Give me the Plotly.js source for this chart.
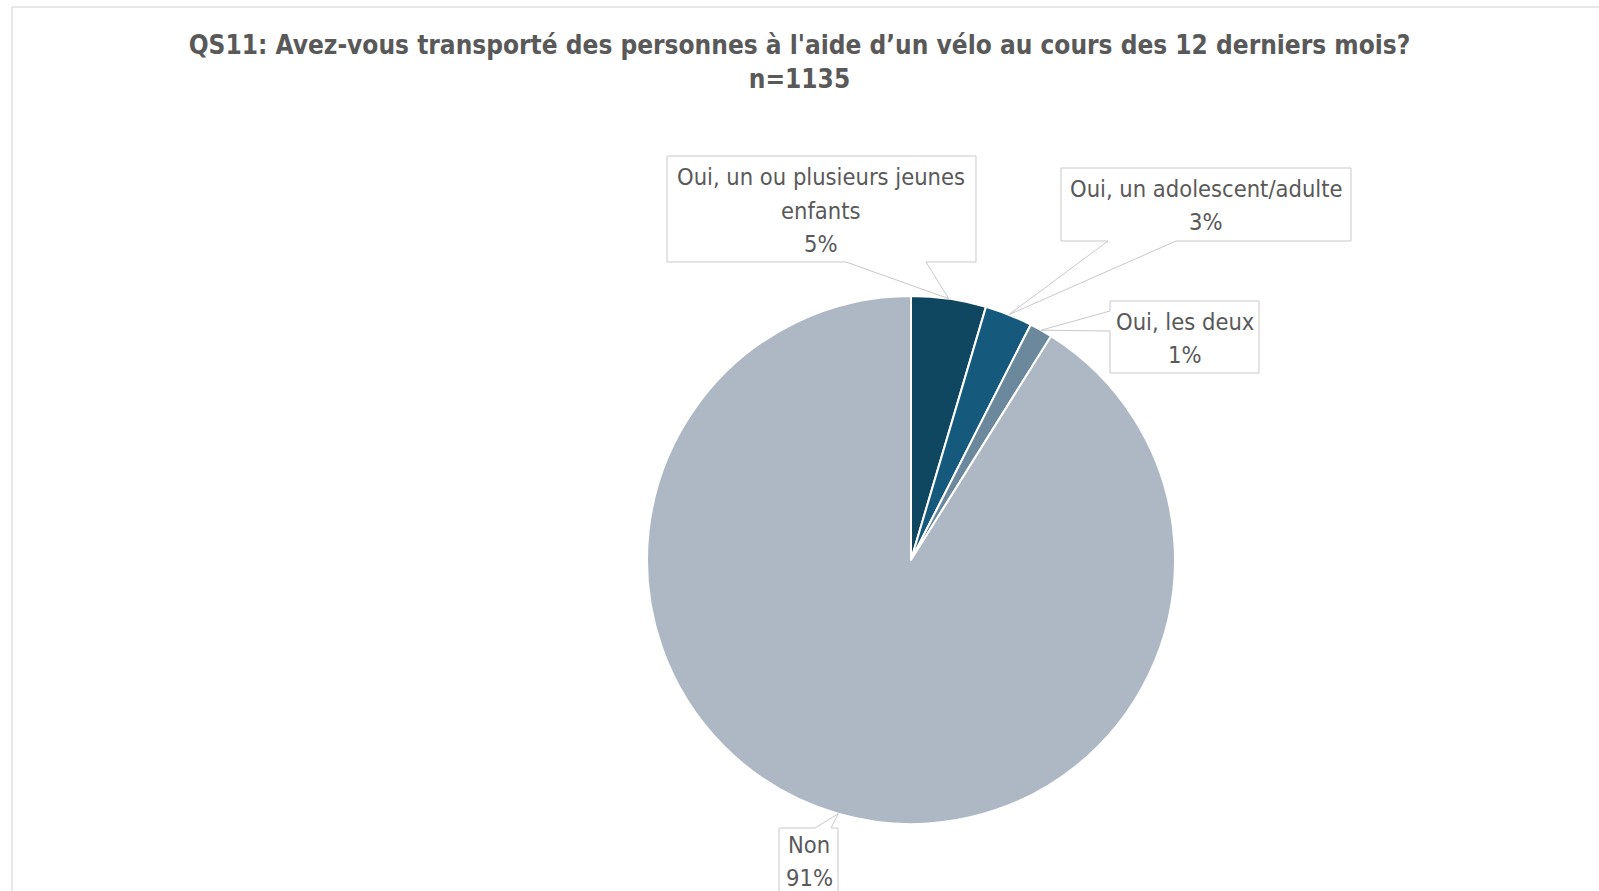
<!DOCTYPE html>
<html>
<head>
<meta charset="utf-8">
<script src="https://cdn.plot.ly/plotly-3.0.1.min.js"></script>
<style>html,body{margin:0;padding:0;background:#fff;}#chart{width:1599px;height:891px;}</style>
</head>
<body>
<div id="chart"></div>
<script>
// ---- data ----
const categories = ["Oui, un ou plusieurs jeunes enfants", "Oui, un adolescent/adulte", "Oui, les deux", "Non"];
const labelLines = [["Oui, un ou plusieurs jeunes", "enfants"], ["Oui, un adolescent/adulte"], ["Oui, les deux"], ["Non"]];
const counts = [52, 33, 16, 1034];
const colors = ["#0f4761", "#155a7c", "#6b889d", "#adb8c4"];
const titleText = "QS11: Avez-vous transporté des personnes à l'aide d’un vélo au cours des 12 derniers mois?<br>n=1135";

// ---- layout geometry (pixels) ----
const W = 1599, H = 891;
const cx = 911, cy = 560, R = 264;
const X = px => px / W;
const Y = py => 1 - py / H;
const FONT = "Liberation Sans Narrow, DejaVu Sans Condensed, Roboto, sans-serif";

// callout boxes: [x0, y0, x1, y1], wedge side and base
const boxes = [
  {b: [667, 156, 976, 262], side: "bottom", base: [846, 926], cx: 821, lineY: [177, 211, 244]},
  {b: [1061, 168, 1351, 241], side: "bottom", base: [1108, 1176], cx: 1206, lineY: [189, 222]},
  {b: [1110, 301, 1259, 373], side: "left", base: [311, 331], cx: 1185, lineY: [322, 355]},
  {b: [779, 828, 838, 905], side: "top", base: [815, 831], cx: 809, lineY: [845, 878]}
];

const total = counts.reduce((a, b) => a + b, 0);
let cum = 0;
const tips = counts.map(v => {
  const mid = (cum + v / 2) / total;
  cum += v;
  const a = mid * 2 * Math.PI;
  return [cx + R * Math.sin(a), cy - R * Math.cos(a)];
});

const shapes = [{
  type: "rect", xref: "paper", yref: "paper",
  x0: X(12), y0: Y(7), x1: X(1640), y1: Y(940),
  line: {color: "#d0d0d0", width: 1}, fillcolor: "rgba(0,0,0,0)", layer: "below"
}];
const annotations = [];

boxes.forEach((bx, i) => {
  const [x0, y0, x1, y1] = bx.b;
  const [tx, ty] = tips[i];
  let pts;
  if (bx.side === "bottom") {
    pts = [[x0, y0], [x1, y0], [x1, y1], [bx.base[1], y1], [tx, ty], [bx.base[0], y1], [x0, y1]];
  } else if (bx.side === "left") {
    pts = [[x0, y0], [x1, y0], [x1, y1], [x0, y1], [x0, bx.base[1]], [tx, ty], [x0, bx.base[0]]];
  } else {
    pts = [[x0, y0], [bx.base[0], y0], [tx, ty], [bx.base[1], y0], [x1, y0], [x1, y1], [x0, y1]];
  }
  const path = "M " + pts.map(p => X(p[0]).toFixed(5) + "," + Y(p[1]).toFixed(5)).join(" L ") + " Z";
  shapes.push({type: "path", xref: "paper", yref: "paper", path: path,
    line: {color: "#c8c8c8", width: 1}, fillcolor: "#ffffff", layer: "above"});
  const pct = Math.round(counts[i] / total * 100) + "%";
  const lines = labelLines[i].concat([pct]);
  lines.forEach((t, k) => {
    annotations.push({
      xref: "paper", yref: "paper", x: X(bx.cx), y: Y(bx.lineY[k]),
      xanchor: "center", yanchor: "middle", showarrow: false, text: t,
      font: {family: FONT, size: 23.5, color: "#595959"}
    });
  });
});

const trace = {
  type: "pie",
  labels: categories,
  values: counts,
  sort: false,
  direction: "clockwise",
  rotation: 0,
  textinfo: "none",
  hoverinfo: "label+percent",
  marker: {colors: colors, line: {color: "#ffffff", width: 2}},
  domain: {x: [X(cx - R), X(cx + R)], y: [Y(cy + R), Y(cy - R)]},
  showlegend: false
};

const layout = {
  width: W, height: H,
  margin: {l: 0, r: 0, t: 0, b: 0},
  paper_bgcolor: "#ffffff",
  title: {
    text: titleText, x: 0.5, xanchor: "center", y: Y(54), yanchor: "middle",
    font: {family: FONT, size: 26, color: "#595959", weight: "bold"}
  },
  shapes: shapes,
  annotations: annotations,
  showlegend: false
};

Plotly.newPlot("chart", [trace], layout, {displayModeBar: false, staticPlot: true});
</script>
</body>
</html>
